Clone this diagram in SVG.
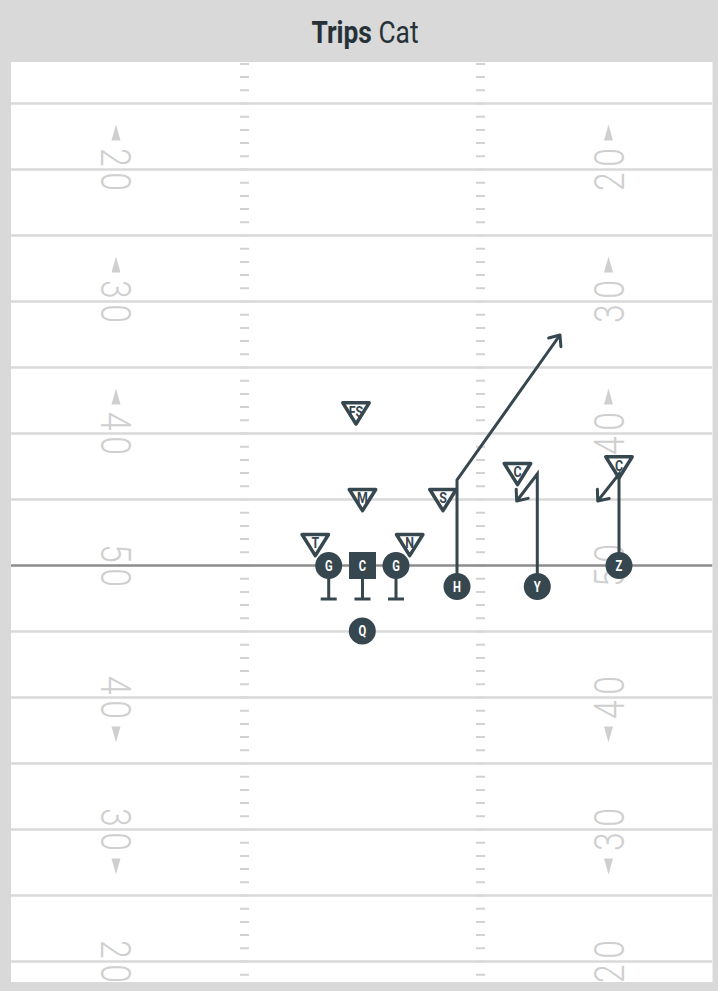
<svg xmlns="http://www.w3.org/2000/svg" width="718" height="991" viewBox="0 0 718 991">
<style>
.yl{stroke:#d9d9d9;stroke-width:2.5;fill:none}
.fifty{stroke:#8c8c8c;stroke-width:2.5;fill:none}
.hash{stroke:#d2d2d2;stroke-width:9;stroke-dasharray:2 11.2;fill:none}
.num{font-family:Roboto,"Liberation Sans",sans-serif;font-weight:300;font-size:42px;fill:#cfcfcf}
.ar{fill:#cfcfcf}
.title{font-family:Roboto,"Liberation Sans",sans-serif;font-size:31px;fill:#263238}
.def{fill:#ffffff;stroke:#37474f;stroke-width:3.5;stroke-linejoin:round}
.dl{font-family:Roboto,"Liberation Sans",sans-serif;font-weight:bold;font-size:15.5px;fill:#37474f;text-anchor:middle}
.off{fill:#37474f}
.ol{font-family:Roboto,"Liberation Sans",sans-serif;font-weight:bold;font-size:14px;fill:#ffffff;text-anchor:middle}
.stem{stroke:#37474f;stroke-width:3;fill:none}
.route{stroke:#37474f;stroke-width:3;fill:none;stroke-linejoin:miter}
</style>
<defs>
<clipPath id="fc"><rect x="11" y="62" width="701.5" height="920"/></clipPath>
<path id="tri" d="M-13.2,-10.7 L13.2,-10.7 L0,10.5 Z"/>
<marker id="arr" markerUnits="userSpaceOnUse" orient="auto" markerWidth="14" markerHeight="20" viewBox="-12 -10 14 20" refX="0" refY="0" overflow="visible">
<path d="M-9,-7.5 L0,0 L-9,7.5" fill="none" stroke="#37474f" stroke-width="3" stroke-linecap="round" stroke-linejoin="round"/>
</marker>
</defs>
<rect x="0" y="0" width="718" height="991" fill="#d9d9d9"/>
<text class="title" transform="translate(365,42.5) scale(0.85,1)" text-anchor="middle"><tspan font-weight="bold">Trips</tspan> Cat</text>
<g id="field">
<rect x="11" y="62" width="701.5" height="920" fill="#ffffff"/>
<g clip-path="url(#fc)">
<line class="hash" x1="244.5" y1="62.9" x2="244.5" y2="982"/>
<line class="hash" x1="480.5" y1="62.9" x2="480.5" y2="982"/>
<path class="yl" d="M11,103.5H712.5M11,169.5H712.5M11,235.5H712.5M11,301.5H712.5M11,367.5H712.5M11,433.5H712.5M11,499.5H712.5M11,631.5H712.5M11,697.5H712.5M11,763.5H712.5M11,829.5H712.5M11,895.5H712.5M11,961.5H712.5"/>
<path class="fifty" d="M11,565.5H712.5"/>
<text class="num" text-anchor="middle" transform="translate(101,169.5) rotate(90) scale(0.8,1)">2<tspan dx="7">0</tspan></text>
<text class="num" text-anchor="middle" transform="translate(101,301.5) rotate(90) scale(0.8,1)">3<tspan dx="7">0</tspan></text>
<text class="num" text-anchor="middle" transform="translate(101,433.5) rotate(90) scale(0.8,1)">4<tspan dx="7">0</tspan></text>
<text class="num" text-anchor="middle" transform="translate(101,565.5) rotate(90) scale(0.8,1)">5<tspan dx="7">0</tspan></text>
<text class="num" text-anchor="middle" transform="translate(101,697.5) rotate(90) scale(0.8,1)">4<tspan dx="7">0</tspan></text>
<text class="num" text-anchor="middle" transform="translate(101,829.5) rotate(90) scale(0.8,1)">3<tspan dx="7">0</tspan></text>
<text class="num" text-anchor="middle" transform="translate(101,961.5) rotate(90) scale(0.8,1)">2<tspan dx="7">0</tspan></text>
<text class="num" text-anchor="middle" transform="translate(623.5,169.5) rotate(-90) scale(0.8,1)">2<tspan dx="7">0</tspan></text>
<text class="num" text-anchor="middle" transform="translate(623.5,301.5) rotate(-90) scale(0.8,1)">3<tspan dx="7">0</tspan></text>
<text class="num" text-anchor="middle" transform="translate(623.5,433.5) rotate(-90) scale(0.8,1)">4<tspan dx="7">0</tspan></text>
<text class="num" text-anchor="middle" transform="translate(623.5,565.5) rotate(-90) scale(0.8,1)">5<tspan dx="7">0</tspan></text>
<text class="num" text-anchor="middle" transform="translate(623.5,697.5) rotate(-90) scale(0.8,1)">4<tspan dx="7">0</tspan></text>
<text class="num" text-anchor="middle" transform="translate(623.5,829.5) rotate(-90) scale(0.8,1)">3<tspan dx="7">0</tspan></text>
<text class="num" text-anchor="middle" transform="translate(623.5,961.5) rotate(-90) scale(0.8,1)">2<tspan dx="7">0</tspan></text>
<polygon class="ar" points="116,124.5 111.5,140.5 120.5,140.5"/>
<polygon class="ar" points="116,256.5 111.5,272.5 120.5,272.5"/>
<polygon class="ar" points="116,388.5 111.5,404.5 120.5,404.5"/>
<polygon class="ar" points="608.5,124.5 604,140.5 613,140.5"/>
<polygon class="ar" points="608.5,256.5 604,272.5 613,272.5"/>
<polygon class="ar" points="608.5,388.5 604,404.5 613,404.5"/>
<polygon class="ar" points="116,742.5 111.5,726.5 120.5,726.5"/>
<polygon class="ar" points="116,874.5 111.5,858.5 120.5,858.5"/>
<polygon class="ar" points="608.5,742.5 604,726.5 613,726.5"/>
<polygon class="ar" points="608.5,874.5 604,858.5 613,858.5"/>
</g>
</g>
<g id="def-FS"><use href="#tri" class="def" x="356" y="413.5"/><text class="dl" transform="translate(356,416.5) scale(0.8,1)">FS</text></g>
<g id="def-M"><use href="#tri" class="def" x="362.5" y="500.2"/><text class="dl" transform="translate(362.5,503.2) scale(0.8,1)">M</text></g>
<g id="def-S"><use href="#tri" class="def" x="443" y="500.2"/><text class="dl" transform="translate(443,503.2) scale(0.8,1)">S</text></g>
<g id="def-T"><use href="#tri" class="def" x="315.3" y="545.2"/><text class="dl" transform="translate(315.3,548.2) scale(0.8,1)">T</text></g>
<g id="def-N"><use href="#tri" class="def" x="409.7" y="545.2"/><text class="dl" transform="translate(409.7,548.2) scale(0.8,1)">N</text></g>
<g id="def-C1"><use href="#tri" class="def" x="517.5" y="474.2"/><text class="dl" transform="translate(517.5,477.2) scale(0.8,1)">C</text></g>
<g id="def-C2"><use href="#tri" class="def" x="619" y="467.5"/><text class="dl" transform="translate(619,470.5) scale(0.8,1)">C</text></g>
<g id="routes">
<path class="route" d="M457,586.5V480L560,335" marker-end="url(#arr)"/>
<path class="route" d="M537.3,586.5V474L516.7,501" marker-end="url(#arr)"/>
<path class="route" d="M619,565.5V474L597.7,501" marker-end="url(#arr)"/>
</g>
<g id="off-G1"><path class="stem" d="M328.7,565.5V599M320.7,599H336.7"/><circle class="off" cx="328.7" cy="565.5" r="13.5"/><text class="ol" transform="translate(328.7,570.5) scale(0.8,1)">G</text></g>
<g id="off-C"><path class="stem" d="M362.5,565.5V599M354.5,599H370.5"/><rect class="off" x="349" y="552" width="27" height="27"/><text class="ol" transform="translate(362.5,570.5) scale(0.8,1)">C</text></g>
<g id="off-G2"><path class="stem" d="M396,565.5V599M388,599H404"/><circle class="off" cx="396" cy="565.5" r="13.5"/><text class="ol" transform="translate(396,570.5) scale(0.8,1)">G</text></g>
<g id="off-Q"><circle class="off" cx="362.3" cy="631" r="13.5"/><text class="ol" transform="translate(362.3,636) scale(0.8,1)">Q</text></g>
<g id="off-H"><circle class="off" cx="457" cy="586.5" r="13.5"/><text class="ol" transform="translate(457,591.5) scale(0.8,1)">H</text></g>
<g id="off-Y"><circle class="off" cx="537.3" cy="586.5" r="13.5"/><text class="ol" transform="translate(537.3,591.5) scale(0.8,1)">Y</text></g>
<g id="off-Z"><circle class="off" cx="619" cy="565.5" r="13.5"/><text class="ol" transform="translate(619,570.5) scale(0.8,1)">Z</text></g>
</svg>
